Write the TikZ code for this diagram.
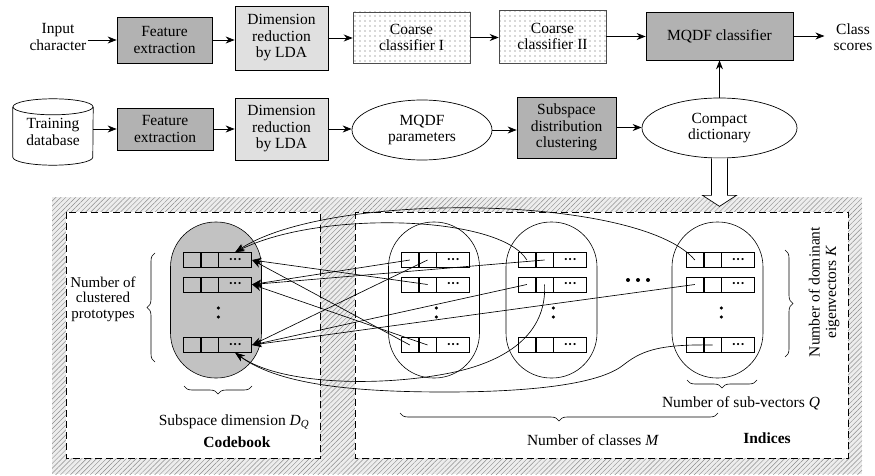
\documentclass[tikz,border=0pt]{standalone}
\usepackage{fontspec}
\setmainfont{Liberation Serif}
\usetikzlibrary{shapes.geometric,arrows.meta,patterns.meta,decorations.pathreplacing,calc}
\newcommand\celldots{{\fontsize{9}{9}\selectfont\textbullet\kern1.2pt\textbullet\kern1.2pt\textbullet}}
% one row of a sub-vector table: name, left x, centre y
\newcommand\cellrow[3]{%
  \node[cell, minimum width=17pt] (#1a) at (#2,#3) {};
  \node[cell, minimum width=17pt] (#1b) at (#1a.east) {};
  \node[cell, minimum width=33pt] (#1c) at (#1b.east) {\celldots};
}
\begin{document}
\begin{tikzpicture}[x=1pt,y=-1pt,
  txt/.style={font=\fontsize{15.5}{16.5}\selectfont, align=center, inner sep=1pt},
  txtbold/.style={txt, font=\fontsize{15.5}{16.5}\selectfont\bfseries},
  darkbox/.style={txt, draw, line width=0.7pt, fill=black!30},
  lightbox/.style={txt, draw, line width=0.7pt, fill=black!12},
  dotbox/.style={txt, draw=black!70, line width=0.6pt,
    pattern={Dots[distance=5pt, radius=0.55pt]}, pattern color=black!65},
  oval/.style={txt, ellipse, draw, line width=0.7pt, inner sep=0pt},
  flow/.style={-{Stealth[length=9pt,width=7pt]}, line width=0.8pt},
  link/.style={-{Stealth[length=9.5pt,width=7pt]}, line width=0.65pt},
  cell/.style={draw, line width=0.7pt, minimum height=15pt, inner sep=0pt,
    anchor=west, font=\fontsize{12}{12}\selectfont},
  capsule/.style={draw, line width=0.6pt, rounded corners=45pt,
    minimum width=91pt, minimum height=156pt},
  curly/.style={decorate, decoration={brace, amplitude=8pt}, line width=0.6pt},
  hollow/.style={draw, fill=white, line width=0.7pt},
  dashbox/.style={draw, dash pattern=on 7pt off 4pt, line width=0.7pt, fill=white}
]
\useasboundingbox (0,0) rectangle (875,476);

% ---------- hatched frame with the two dashed panels ----------
\path[fill=black!7] (52,197) rectangle (862,474);
\path[pattern={Lines[angle=45,distance=3.5pt,line width=0.45pt]}, pattern color=black!45]
  (52,197) rectangle (862,474);
\path[dashbox] (66,212) rectangle (320,458);
\path[dashbox] (355,212) rectangle (848,458);

% ---------- recognition pipeline ----------
\node[txt] (inp) at (58,37) {Input\\character};
\node[darkbox, minimum width=95pt, minimum height=46pt] (fe1) at (164.5,40) {Feature\\extraction};
\node[lightbox, minimum width=93pt, minimum height=64pt] (dr1) at (281.5,38) {Dimension\\reduction\\by LDA};
\node[dotbox, minimum width=117pt, minimum height=51pt] (cc1) at (411.5,37.5) {Coarse\\classifier I};
\node[dotbox, minimum width=107pt, minimum height=53pt] (cc2) at (552.5,36.5) {Coarse\\classifier II};
\node[darkbox, minimum width=147pt, minimum height=48pt] (mq) at (719.5,36) {MQDF classifier};
\node[txt] (cs) at (853,37) {Class\\scores};

\draw[flow] (inp.east |- fe1.west) -- (fe1.west);
\draw[flow] (fe1.east) -- (fe1.east -| dr1.west);
\draw[flow] (dr1.east) -- (dr1.east -| cc1.west);
\draw[flow] (cc1.east) -- (cc1.east -| cc2.west);
\draw[flow] (cc2.east) -- (cc2.east -| mq.west);
\draw[flow] (mq.east) -- ($(mq.east -| cs.west)+(-8,0)$);

% ---------- training pipeline ----------
\node[txt, minimum width=80pt, minimum height=66pt] (db) at (53,132) {Training\\database};
\draw[line width=0.7pt] ($(db.north)+(0,8)$) ellipse [x radius=40pt, y radius=8pt];
\draw[line width=0.7pt] ($(db.north west)+(0,8)$) -- ($(db.south west)+(0,-8)$)
  arc [start angle=180, end angle=360, x radius=40pt, y radius=8pt]
  -- ($(db.north east)+(0,8)$);
\node[darkbox, minimum width=96pt, minimum height=42pt] (fe2) at (165,129) {Feature\\extraction};
\node[lightbox, minimum width=93pt, minimum height=62pt] (dr2) at (281.5,129) {Dimension\\reduction\\by LDA};
\node[oval, minimum width=140pt, minimum height=60pt] (mp) at (422,130) {MQDF\\parameters};
\node[darkbox, minimum width=99pt, minimum height=61pt] (sdc) at (566.5,127.5) {Subspace\\distribution\\clustering};
\node[oval, minimum width=155pt, minimum height=60pt] (cd) at (719.5,128) {Compact\\dictionary};

\draw[flow] (db.east |- fe2.west) -- (fe2.west);
\draw[flow] (fe2.east) -- (fe2.east -| dr2.west);
\draw[flow] (dr2.east) -- (dr2.east -| mp.west);
\draw[flow] (mp.east) -- (mp.east -| sdc.west);
\draw[flow] (sdc.east) -- (sdc.east -| cd.west);
\draw[flow] (cd.north) -- (cd.north |- mq.south);

% hollow arrow into the dictionary panel
\path[hollow] ($(cd.south)+(-8,0)$) -- ++(0,37) -- ++(-9,0) -- ($(cd.south)+(0,48)$)
  -- ($(cd.south)+(17,37)$) -- ++(-9,0) -- ($(cd.south)+(8,0)$);

% ---------- codebook and index tables ----------
\node[capsule, fill=black!24] (cbk) at (216,300) {};
\node[capsule] (cl1) at (434,300) {};
\node[capsule] (cl2) at (551.5,300) {};
\node[capsule] (cl3) at (717.5,300) {};

\cellrow{kA}{183}{260}
\cellrow{kB}{183}{284.5}
\cellrow{kC}{183}{345}
\cellrow{oneA}{401}{260}
\cellrow{oneB}{401}{284.5}
\cellrow{oneC}{401}{345}
\cellrow{twoA}{518}{260}
\cellrow{twoB}{518}{284.5}
\cellrow{twoC}{518}{345}
\cellrow{thrA}{686}{260}
\cellrow{thrB}{686}{284.5}
\cellrow{thrC}{686}{345}

\foreach \r in {kC,oneC,twoC,thrC}{
  \fill (\r b.south east |- 0,308) circle (1.7pt);
  \fill (\r b.south east |- 0,317) circle (1.7pt);
}
\foreach \x in {628,638,648} \fill (\x,280) circle (2pt);

% index entries pointing at codebook rows
\draw[link] (oneBb.center) -- (kAc.east);
\draw[link] (oneCa.center) -- (kAc.east);
\draw[link] (oneAa.center) -- (kBc.east);
\draw[link] (twoAb.center) -- (kBc.east);
\draw[link] (oneCb.center) -- (kBc.east);
\draw[link] (oneAb.center) -- (kCc.east);
\draw[link] (twoBa.center) -- (kCc.east);
\draw[link] (thrBa.center) -- (kCc.east);
\draw[link] (thrAa.center) .. controls (640,195) and (330,190) .. (kAc.north);
\draw[link] (twoAa.center) .. controls (500,215) and (320,210) .. (kAc.north);
\draw[link] (twoBb.center) .. controls (547,335) and (505,362) .. (450,373)
  .. controls (380,387) and (280,385) .. (kCc.south);
\draw[link] (thrCb.center) .. controls (655,344) and (640,352) .. (622,366)
  .. controls (595,386) and (520,392) .. (445,392)
  .. controls (340,392) and (275,382) .. (kCc.south);

% ---------- braces and labels ----------
\draw[curly] (155,362) -- (155,253);
\node[txt, font=\fontsize{15}{15.5}\selectfont] (ncp) at (103,299) {Number of\\clustered\\prototypes};
\draw[curly] (252,386) -- (184,386);
\node[txt] (sdim) at (234,422) {Subspace dimension \textit{D}\textsubscript{\textit{Q}}};
\node[txtbold] (cbl) at (237,442) {Codebook};
\draw[curly] (757,380) -- (687,380);
\node[txt] (nq) at (741,403) {Number of sub-vectors \textit{Q}};
\draw[curly] (718,413) -- (400,413);
\node[txt] (nm) at (593,440) {Number of classes \textit{M}};
\node[txtbold] (ind) at (767,438) {Indices};
\draw[curly] (785,250) -- (785,357);
\node[txt, rotate=90] (nk) at (824,292) {Number of dominant\\eigenvectors \textit{K}};
\end{tikzpicture}
\end{document}
